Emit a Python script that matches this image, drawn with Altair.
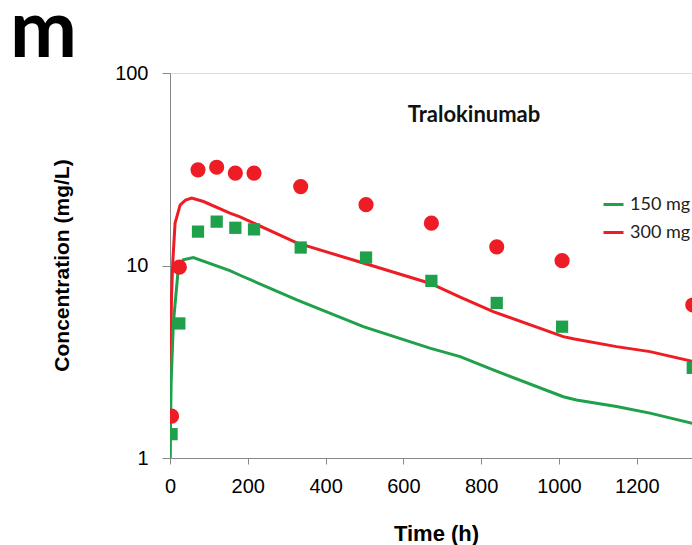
import altair as alt
import pandas as pd

# ---- data ----
model_t_300 = [0, 2, 4, 7, 13, 26, 40, 56, 86, 154, 180, 326, 497, 668, 746, 831, 1011, 1040, 1148, 1234, 1345]
model_c_300 = [1.0, 4.0, 7.0, 10.3, 16.6, 20.6, 21.9, 22.4, 21.5, 18.7, 17.9, 13.1, 10.3, 8.09, 6.85, 5.76, 4.27, 4.15, 3.79, 3.57, 3.17]

model_t_150 = [0, 3, 8.6, 21, 34, 60, 154, 180, 326, 497, 668, 746, 831, 1011, 1045, 1148, 1234, 1345]
model_c_150 = [1.0, 2.5, 5.0, 9.5, 10.7, 11.0, 9.4, 8.9, 6.63, 4.81, 3.72, 3.36, 2.87, 2.08, 2.0, 1.85, 1.71, 1.51]

obs_t = [4, 24, 72, 120, 168, 216, 336, 504, 672, 840, 1008, 1344]
obs_300 = [1.65, 9.8, 31.4, 32.4, 30.2, 30.2, 25.7, 20.7, 16.6, 12.5, 10.6, 6.24]
obs_150 = [1.33, 5.0, 15.0, 16.9, 15.7, 15.4, 12.4, 11.0, 8.32, 6.39, 4.81, 2.94]

doses = ["150 mg", "300 mg"]
x_ticks = [0, 200, 400, 600, 800, 1000, 1200]
y_ticks = [1, 10, 100]

GREEN = "#1FA04A"
RED = "#EE1C25"
FONT = "Lato"

lines = pd.DataFrame({"t": model_t_300, "c": model_c_300, "dose": "300 mg"})
lines = pd.concat(
    [lines, pd.DataFrame({"t": model_t_150, "c": model_c_150, "dose": "150 mg"})],
    ignore_index=True,
)
pts = pd.DataFrame({"t": obs_t, "c300": obs_300, "c150": obs_150})

xscale = alt.Scale(domain=[0, 1342], nice=False, zero=False)
yscale = alt.Scale(type="log", domain=[1, 100], nice=False)

xaxis = alt.Axis(
    title="Time (h)", values=x_ticks, grid=False, tickSize=6, labelPadding=12,
    labelFontSize=20, titleFontSize=22, titleFontWeight="bold",
    titleX=266, titleY=75, titleBaseline="middle", titleAnchor="middle",
    labelFlush=False, format="d",
)
yaxis = alt.Axis(
    title="Concentration (mg/L)", values=y_ticks, grid=False, tickSize=8,
    labelPadding=14, labelFontSize=20, titleFontSize=21, titleFontWeight="bold",
    titleX=-108, titleY=192, titleBaseline="middle", titleAnchor="middle",
    format="d",
)

line_layer = alt.Chart(lines).mark_line(strokeWidth=3, clip=True).encode(
    x=alt.X("t:Q", scale=xscale, axis=xaxis),
    y=alt.Y("c:Q", scale=yscale, axis=yaxis),
    color=alt.Color(
        "dose:N",
        scale=alt.Scale(domain=doses, range=[GREEN, RED]),
        legend=alt.Legend(
            title=None, orient="none", legendX=432, legendY=120,
            symbolType="stroke", symbolSize=400, symbolStrokeWidth=3,
            labelFontSize=18, labelFont=FONT, labelColor="#222222",
            rowPadding=7, labelOffset=5, padding=0,
        ),
    ),
    detail="dose:N",
    order=alt.Order("t:Q"),
)

green_pts = alt.Chart(pts).mark_point(
    shape="square", filled=True, size=150, color=GREEN, opacity=1, clip=True
).encode(x=alt.X("t:Q", scale=xscale), y=alt.Y("c150:Q", scale=yscale))

red_pts = alt.Chart(pts).mark_point(
    shape="circle", filled=True, size=230, color=RED, opacity=1, clip=True
).encode(x=alt.X("t:Q", scale=xscale), y=alt.Y("c300:Q", scale=yscale))

drug_label = alt.Chart(pd.DataFrame({"s": ["Tralokinumab"]})).mark_text(
    font=FONT, fontSize=22, fontWeight="bold", color="#111111", align="center",
    baseline="alphabetic",
).encode(text="s:N", x=alt.value(304), y=alt.value(48.5))

panel_label = alt.Chart(pd.DataFrame({"s": ["m"]})).mark_text(
    font=FONT, fontSize=80, fontWeight="bold", color="#000000", align="left",
    baseline="alphabetic",
).encode(text="s:N", x=alt.value(-160), y=alt.value(-16))

chart = (
    alt.layer(line_layer, green_pts, red_pts, drug_label, panel_label)
    .properties(
        width=522, height=385,
        autosize=alt.AutoSizeParams(type="none"),
        padding={"left": 170, "top": 73, "right": 0, "bottom": 87},
    )
    .configure_view(stroke=None)
    .configure_axis(
        domainColor="#8c8c8c", tickColor="#8c8c8c", labelColor="#222222",
        titleColor="#111111", labelFont=FONT, titleFont=FONT, domainWidth=1.2,
    )
    .configure(background="white")
)

chart.save("out.html", embed_options={"renderer": "svg", "actions": False})
